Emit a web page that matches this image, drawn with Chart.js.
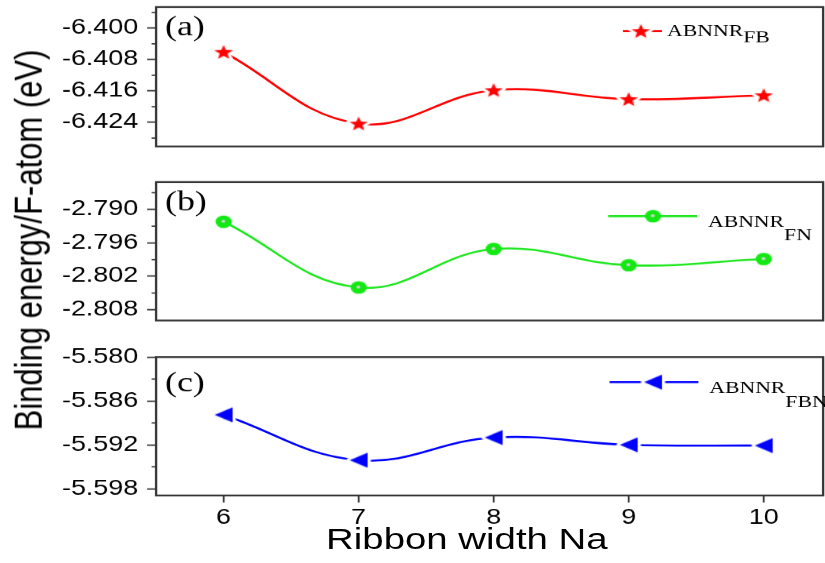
<!DOCTYPE html>
<html>
<head>
<meta charset="utf-8">
<script src="https://cdn.jsdelivr.net/npm/chart.js@4.4.0/dist/chart.umd.min.js"></script>
<style>
  html, body { margin: 0; padding: 0; background: #fff; }
  /* the original figure is stretched sideways, so the whole stage is too */
  #stage { position: absolute; left: 0; top: 0; width: 645px; height: 563px; transform: scaleX(1.27907); transform-origin: 0 0; }
  .panel { position: absolute; left: 0; width: 645px; }
  .title { position: absolute; font-family: "Liberation Sans", Arial, sans-serif; font-size: 30px; line-height: 1; white-space: nowrap; color: #000; }
  #ytitle { left: 22px; top: 240px; font-size: 31px; transform: translate(-50%, -50%) rotate(-90deg); }
  #xtitle { left: 365px; top: 539px; transform: translate(-50%, -50%); }
</style>
</head>
<body>
<div id="stage">
  <div class="panel" style="top:0;height:160px"><canvas id="chartA" width="645" height="160"></canvas></div>
  <div class="panel" style="top:168px;height:160px"><canvas id="chartB" width="645" height="160"></canvas></div>
  <div class="panel" style="top:338px;height:225px"><canvas id="chartC" width="645" height="225"></canvas></div>
  <div class="title" id="ytitle">Binding energy/F-atom (eV)</div>
  <div class="title" id="xtitle">Ribbon width Na</div>
</div>
<script>
// data
const ribbonWidth = [6, 7, 8, 9, 10];
const energyFB = [-6.4061, -6.4243, -6.4158, -6.4181, -6.4171];
const energyFN = [-2.7922, -2.8040, -2.7971, -2.8000, -2.7989];
const energyFBN = [-5.5879, -5.5941, -5.5910, -5.5920, -5.5921];

const xTicks = [6, 7, 8, 9, 10];
const ticksFB = [-6.400, -6.408, -6.416, -6.424];
const minorFB = [-6.396, -6.404, -6.412, -6.420, -6.428];
const ticksFN = [-2.790, -2.796, -2.802, -2.808];
const minorFN = [-2.787, -2.793, -2.799, -2.805];
const ticksFBN = [-5.580, -5.586, -5.592, -5.598];
const minorFBN = [-5.583, -5.589, -5.595];

const axisColor = '#333';
const tickFont = { family: '"Liberation Sans", Arial, sans-serif', size: 21 };
const serif = '"Liberation Serif", "Times New Roman", serif';

function makeCanvas(size) {
  const c = document.createElement('canvas');
  c.width = size; c.height = size;
  return c;
}

function starMarker(color) {
  const c = makeCanvas(22), g = c.getContext('2d');
  g.translate(11, 11.6);
  g.beginPath();
  for (let i = 0; i < 10; i++) {
    const r = i % 2 ? 3.2 : 7.6;
    const a = -Math.PI / 2 + i * Math.PI / 5;
    g.lineTo(r * Math.cos(a), r * Math.sin(a));
  }
  g.closePath();
  g.lineJoin = 'round';
  g.lineWidth = 5; g.strokeStyle = '#fff'; g.stroke();
  g.fillStyle = color; g.fill();
  return c;
}

function sphereMarker(color) {
  const c = makeCanvas(16), g = c.getContext('2d');
  g.beginPath(); g.arc(8, 8, 6.3, 0, Math.PI * 2);
  g.fillStyle = color; g.fill();
  const hl = g.createRadialGradient(7.8, 7.6, 0, 7.8, 7.6, 2);
  hl.addColorStop(0, 'rgba(235,235,235,1)');
  hl.addColorStop(0.7, 'rgba(190,200,190,0.9)');
  hl.addColorStop(1, 'rgba(120,220,120,0)');
  g.fillStyle = hl;
  g.beginPath(); g.arc(7.8, 7.6, 2, 0, Math.PI * 2); g.fill();
  return c;
}

function triangleMarker(color) {
  const c = makeCanvas(24), g = c.getContext('2d');
  g.translate(12, 12);
  g.beginPath();
  g.moveTo(-7, 0); g.lineTo(7, -7.5); g.lineTo(7, 7.5);
  g.closePath();
  g.lineJoin = 'round';
  g.lineWidth = 5; g.strokeStyle = '#fff'; g.stroke();
  g.fillStyle = color; g.fill();
  return c;
}

function decoPlugin(p) {
  return {
    id: 'deco',
    afterDraw(chart) {
      const ctx = chart.ctx, a = chart.chartArea, ys = chart.scales.y;
      ctx.save();
      ctx.strokeStyle = axisColor;
      ctx.lineWidth = 1.3;
      p.minor.forEach(v => {
        const y = ys.getPixelForValue(v);
        ctx.beginPath(); ctx.moveTo(a.left - 3.5, y); ctx.lineTo(a.left, y); ctx.stroke();
      });
      ctx.lineWidth = 1.8;
      ctx.strokeRect(a.left, a.top, a.right - a.left, a.bottom - a.top);

      ctx.fillStyle = '#000';
      ctx.textBaseline = 'alphabetic';
      ctx.font = '28px ' + serif;
      ctx.fillText(p.letter, a.left + 7, a.top + p.letterDy);

      // legend entry
      const ly = a.top + p.legDy;
      ctx.strokeStyle = p.color; ctx.lineWidth = 2;
      ctx.beginPath(); ctx.moveTo(a.right + p.legX1, ly); ctx.lineTo(a.right + p.legX2, ly); ctx.stroke();
      const m = p.marker, mx = a.right + p.legMx;
      ctx.drawImage(m, mx - m.width / 2, ly - m.height / 2);
      ctx.fillStyle = '#000';
      ctx.font = '17px ' + serif;
      const tx = a.right + p.legTx;
      ctx.fillText('ABNNR', tx, ly + p.textDy);
      ctx.fillText(p.sub, tx + ctx.measureText('ABNNR').width, ly + p.subDy);
      ctx.restore();
    }
  };
}

function makePanel(id, p) {
  const showX = !!p.showX;
  new Chart(document.getElementById(id), {
    type: 'line',
    data: {
      datasets: [{
        data: ribbonWidth.map((x, i) => ({ x, y: p.values[i] })),
        borderColor: p.color,
        borderWidth: 2,
        tension: 0.4,
        fill: false,
        pointStyle: p.marker,
        pointRadius: 7
      }]
    },
    options: {
      responsive: false,
      devicePixelRatio: 1.27907,
      animation: false,
      layout: { autoPadding: false, padding: { top: p.padTop, bottom: p.padBottom, left: 0, right: 1.5 } },
      plugins: { legend: { display: false }, tooltip: { enabled: false } },
      scales: {
        x: {
          type: 'linear',
          display: showX,
          min: 5.5,
          max: 10.44,
          afterBuildTicks: s => { s.ticks = xTicks.map(v => ({ value: v })); },
          afterFit: s => { s.height = showX ? 68 : 0; s.paddingLeft = 0; s.paddingRight = 0; },
          grid: { drawOnChartArea: false, tickLength: 7, tickColor: axisColor, tickWidth: 1.4 },
          border: { display: false },
          ticks: { color: '#000', font: tickFont, padding: 3, maxRotation: 0 }
        },
        y: {
          type: 'linear',
          min: p.min,
          max: p.max,
          afterBuildTicks: s => { s.ticks = p.ticks.map(v => ({ value: v })); },
          afterFit: s => { s.width = 122; s.paddingTop = 0; s.paddingBottom = 0; },
          grid: { drawOnChartArea: false, tickLength: 7, tickColor: axisColor, tickWidth: 1.4 },
          border: { display: false },
          ticks: { color: '#000', font: tickFont, padding: 7, callback: v => v.toFixed(3) }
        }
      }
    },
    plugins: [decoPlugin(p)]
  });
}

makePanel('chartA', {
  values: energyFB, ticks: ticksFB, minor: minorFB, min: -6.43013, max: -6.39464,
  color: '#ff0000', marker: starMarker('#ff0000'), padTop: 7, padBottom: 14,
  letter: '(a)', letterDy: 28, sub: 'FB',
  legDy: 24, legX1: -156.5, legX2: -126, legMx: -142.5, legTx: -122, textDy: 5, subDy: 11
});

makePanel('chartB', {
  values: energyFN, ticks: ticksFN, minor: minorFN, min: -2.80993, max: -2.78509,
  color: '#1fe81f', marker: sphereMarker('#12e812'), padTop: 14, padBottom: 8,
  letter: '(b)', letterDy: 28, sub: 'FN',
  legDy: 34, legX1: -168, legX2: -98.5, legMx: -133, legTx: -90, textDy: 11, subDy: 24
});

makePanel('chartC', {
  values: energyFBN, ticks: ticksFBN, minor: minorFBN, min: -5.59892, max: -5.58,
  color: '#0000ff', marker: triangleMarker('#0000ff'), padTop: 19, padBottom: 0, showX: true,
  letter: '(c)', letterDy: 34, sub: 'FBN',
  legDy: 25, legX1: -167, legX2: -97.5, legMx: -133, legTx: -89, textDy: 11, subDy: 25
});
</script>
</body>
</html>
